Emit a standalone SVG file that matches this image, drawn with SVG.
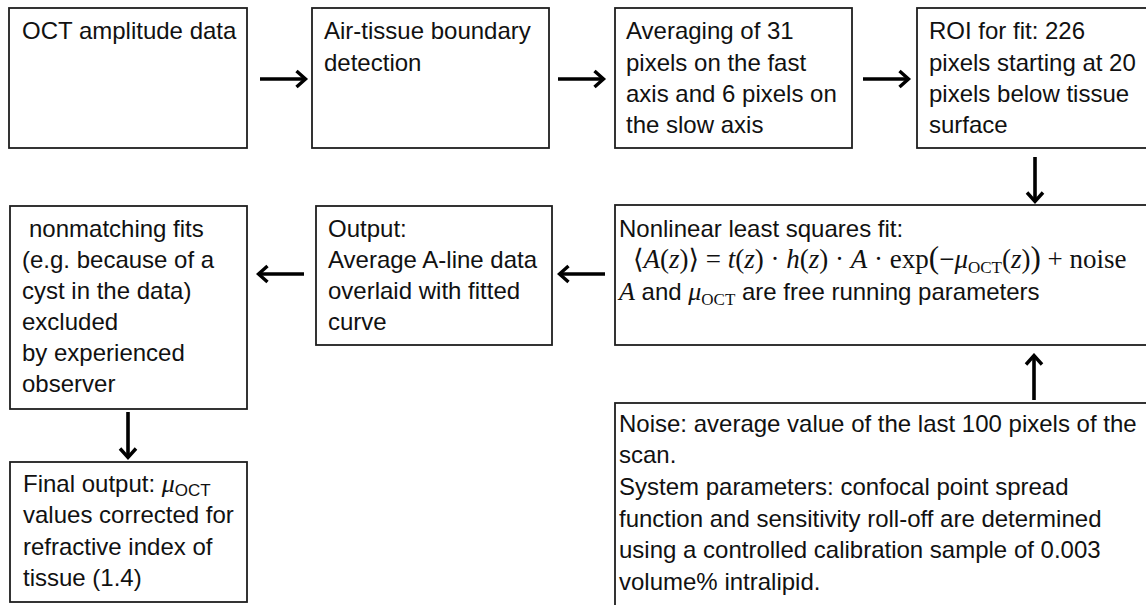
<svg xmlns="http://www.w3.org/2000/svg" width="1146" height="605" viewBox="0 0 1146 605">
  <style>
    .box { fill: #ffffff; stroke: #1e1e1e; stroke-width: 1.8; }
    .t { font-family: "Liberation Sans", Arial, sans-serif; font-size: 24px; fill: #111; }
    .m { font-family: "Liberation Serif", "DejaVu Serif", serif; font-size: 27px; fill: #111; }
    .mi { font-family: "Liberation Serif", "DejaVu Serif", serif; font-style: italic; }
    .sub { font-size: 17px; }
    .conn { stroke: #000; stroke-width: 3.6; fill: none; marker-end: url(#ah); }
  </style>
  <defs>
    <marker id="ah" viewBox="0 0 14 20" refX="11.5" refY="10" markerWidth="14" markerHeight="20" markerUnits="userSpaceOnUse" orient="auto">
      <path d="M2,2 L11,10 L2,18" fill="none" stroke="#000" stroke-width="3.4" stroke-linecap="butt" stroke-linejoin="miter"/>
    </marker>
  </defs>
  <rect width="1146" height="605" fill="#ffffff"/>

  <g id="node-oct-data">
    <rect class="box" x="9" y="8" width="238" height="140"/>
    <text class="t" x="22" y="39">OCT amplitude data</text>
  </g>

  <g id="node-boundary">
    <rect class="box" x="312" y="8" width="237" height="140"/>
    <text class="t" x="324" y="39">Air-tissue boundary</text>
    <text class="t" x="324" y="71">detection</text>
  </g>

  <g id="node-averaging">
    <rect class="box" x="615" y="8" width="237" height="140"/>
    <text class="t" x="626" y="39">Averaging of 31</text>
    <text class="t" x="626" y="71">pixels on the fast</text>
    <text class="t" x="626" y="102">axis and 6 pixels on</text>
    <text class="t" x="626" y="133">the slow axis</text>
  </g>

  <g id="node-roi">
    <rect class="box" x="917" y="8" width="232" height="140"/>
    <text class="t" x="929" y="39">ROI for fit: 226</text>
    <text class="t" x="929" y="71">pixels starting at 20</text>
    <text class="t" x="929" y="102">pixels below tissue</text>
    <text class="t" x="929" y="133">surface</text>
  </g>

  <g id="node-fit">
    <rect class="box" x="615" y="205" width="534" height="140"/>
    <text class="t" x="619" y="237">Nonlinear least squares fit:</text>
    <text class="m" x="633" y="268">⟨<tspan class="mi">A</tspan>(<tspan class="mi">z</tspan>)⟩ = <tspan class="mi">t</tspan>(<tspan class="mi">z</tspan>) · <tspan class="mi">h</tspan>(<tspan class="mi">z</tspan>) · <tspan class="mi">A</tspan> · exp<tspan font-size="31">(</tspan>−<tspan class="mi">μ</tspan><tspan class="sub" dy="5">OCT</tspan><tspan dy="-5">(</tspan><tspan class="mi">z</tspan>)<tspan font-size="31">)</tspan> + noise</text>
    <text class="t" x="619" y="300"><tspan class="mi" font-size="26">A</tspan> and <tspan class="mi" font-size="26">μ</tspan><tspan class="sub" font-family="Liberation Serif, serif" dy="5">OCT</tspan><tspan dy="-5"> are free running parameters</tspan></text>
  </g>

  <g id="node-output">
    <rect class="box" x="316" y="206" width="236" height="139"/>
    <text class="t" x="328" y="237">Output:</text>
    <text class="t" x="328" y="268">Average A-line data</text>
    <text class="t" x="328" y="299">overlaid with fitted</text>
    <text class="t" x="328" y="330">curve</text>
  </g>

  <g id="node-exclusion">
    <rect class="box" x="10" y="206" width="237" height="203"/>
    <text class="t" x="29" y="237">nonmatching fits</text>
    <text class="t" x="22" y="268">(e.g. because of a</text>
    <text class="t" x="22" y="299">cyst in the data)</text>
    <text class="t" x="22" y="330">excluded</text>
    <text class="t" x="22" y="361">by experienced</text>
    <text class="t" x="22" y="392">observer</text>
  </g>

  <g id="node-final">
    <rect class="box" x="10" y="462" width="237" height="140"/>
    <text class="t" x="23" y="492">Final output: <tspan class="mi" font-size="26">μ</tspan><tspan class="sub" dy="4">OCT</tspan></text>
    <text class="t" x="23" y="523">values corrected for</text>
    <text class="t" x="23" y="555">refractive index of</text>
    <text class="t" x="23" y="586">tissue (1.4)</text>
  </g>

  <g id="node-noise">
    <rect class="box" x="615" y="403" width="534" height="210"/>
    <text class="t" x="619" y="432">Noise: average value of the last 100 pixels of the</text>
    <text class="t" x="619" y="463">scan.</text>
    <text class="t" x="619" y="495">System parameters: confocal point spread</text>
    <text class="t" x="619" y="527">function and sensitivity roll-off are determined</text>
    <text class="t" x="619" y="558">using a controlled calibration sample of 0.003</text>
    <text class="t" x="619" y="590">volume% intralipid.</text>
  </g>

  <g id="connectors">
    <line class="conn" x1="260" y1="79" x2="306" y2="79"/>
    <line class="conn" x1="558" y1="79" x2="604" y2="79"/>
    <line class="conn" x1="863" y1="79" x2="909" y2="79"/>
    <line class="conn" x1="1035" y1="157" x2="1035" y2="202"/>
    <line class="conn" x1="605" y1="274" x2="559" y2="274"/>
    <line class="conn" x1="304" y1="274" x2="258" y2="274"/>
    <line class="conn" x1="128" y1="412" x2="128" y2="458"/>
    <line class="conn" x1="1034" y1="400" x2="1034" y2="355"/>
  </g>
</svg>
